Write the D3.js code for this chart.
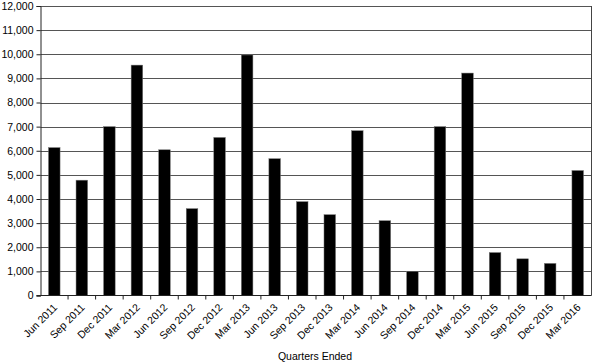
<!DOCTYPE html>
<html>
<head>
  <meta charset="utf-8">
  <title>Quarters Ended</title>
  <script src="https://d3js.org/d3.v7.min.js"></script>
  <style>
    body { margin: 0; background: #fff; }
    svg text { font-family: "Liberation Sans", Arial, Helvetica, sans-serif; fill: #000; }
  </style>
</head>
<body>
  <div id="chart"></div>
  <script>
    // chart data
    var quarters = ["Jun 2011", "Sep 2011", "Dec 2011", "Mar 2012", "Jun 2012", "Sep 2012",
      "Dec 2012", "Mar 2013", "Jun 2013", "Sep 2013", "Dec 2013", "Mar 2014", "Jun 2014",
      "Sep 2014", "Dec 2014", "Mar 2015", "Jun 2015", "Sep 2015", "Dec 2015", "Mar 2016"];
    var values = [6130, 4780, 7000, 9550, 6040, 3600, 6550, 9970, 5670, 3890, 3350, 6830,
      3100, 1000, 7000, 9220, 1780, 1520, 1330, 5180];
    var yTicks = [0, 1000, 2000, 3000, 4000, 5000, 6000, 7000, 8000, 9000, 10000, 11000, 12000];
    var xTitle = "Quarters Ended";

    function draw() {
      "use strict";
      var width = 593, height = 364;
      var mLeft = 40.5, mRight = 591.5, mTop = 6, mBottom = 295.5;

      var svg = d3.select("#chart").append("svg")
        .attr("width", width)
        .attr("height", height);

      var x = d3.scaleBand()
        .domain(quarters)
        .range([mLeft, mRight])
        .paddingInner(0.58)
        .paddingOuter(0.29);

      var y = d3.scaleLinear()
        .domain([0, 12000])
        .range([mBottom, mTop]);

      // gridlines
      svg.append("g")
        .selectAll("line")
        .data(yTicks.slice(1))
        .enter()
        .append("line")
          .attr("x1", mLeft)
          .attr("x2", mRight)
          .attr("y1", function (d) { return Math.round(y(d)) + 0.5; })
          .attr("y2", function (d) { return Math.round(y(d)) + 0.5; })
          .attr("stroke", "#555")
          .attr("stroke-width", 1);

      // right border
      svg.append("line")
        .attr("x1", mRight).attr("x2", mRight)
        .attr("y1", mTop).attr("y2", mBottom)
        .attr("stroke", "#444");

      // bars
      svg.append("g")
        .selectAll("rect")
        .data(values)
        .enter()
        .append("rect")
          .attr("x", function (d, i) { return x(quarters[i]); })
          .attr("width", x.bandwidth())
          .attr("y", function (d) { return y(d); })
          .attr("height", function (d) { return y(0) - y(d); })
          .attr("fill", "#000")
          .attr("stroke", "#777")
          .attr("stroke-width", 0.5);

      // y axis
      var yAxis = d3.axisLeft(y)
        .tickValues(yTicks)
        .tickSize(4)
        .tickPadding(3)
        .tickFormat(d3.format(","));

      svg.append("g")
        .attr("transform", "translate(" + mLeft + ",0)")
        .call(yAxis)
        .call(function (g) {
          g.select(".domain").attr("stroke", "#222");
          g.selectAll(".tick line").attr("stroke", "#222");
          g.selectAll("text").style("font-size", "10.5px").attr("font-family", null);
        });

      // x axis: ticks sit between the bars
      var boundaries = d3.range(1, quarters.length).map(function (i) {
        return mLeft + i * (mRight - mLeft) / quarters.length;
      });

      svg.append("line")
        .attr("x1", mLeft - 4).attr("x2", mRight)
        .attr("y1", mBottom).attr("y2", mBottom)
        .attr("stroke", "#222");

      svg.append("g")
        .selectAll("line")
        .data(boundaries)
        .enter()
        .append("line")
          .attr("x1", function (d) { return d; })
          .attr("x2", function (d) { return d; })
          .attr("y1", mBottom)
          .attr("y2", mBottom + 4)
          .attr("stroke", "#222");

      svg.append("g")
        .selectAll("text")
        .data(quarters)
        .enter()
        .append("text")
          .attr("transform", function (d) {
            var cx = x(d) + x.bandwidth() / 2 + 1;
            return "translate(" + cx + "," + (mBottom + 10) + ") rotate(-45)";
          })
          .attr("text-anchor", "end")
          .attr("dy", "0.35em")
          .style("font-size", "10.5px")
          .text(function (d) { return d; });

      svg.append("text")
        .attr("x", 315)
        .attr("y", 360)
        .attr("text-anchor", "middle")
        .style("font-size", "10.5px")
        .text(xTitle);
    }

    draw();
  </script>
</body>
</html>
